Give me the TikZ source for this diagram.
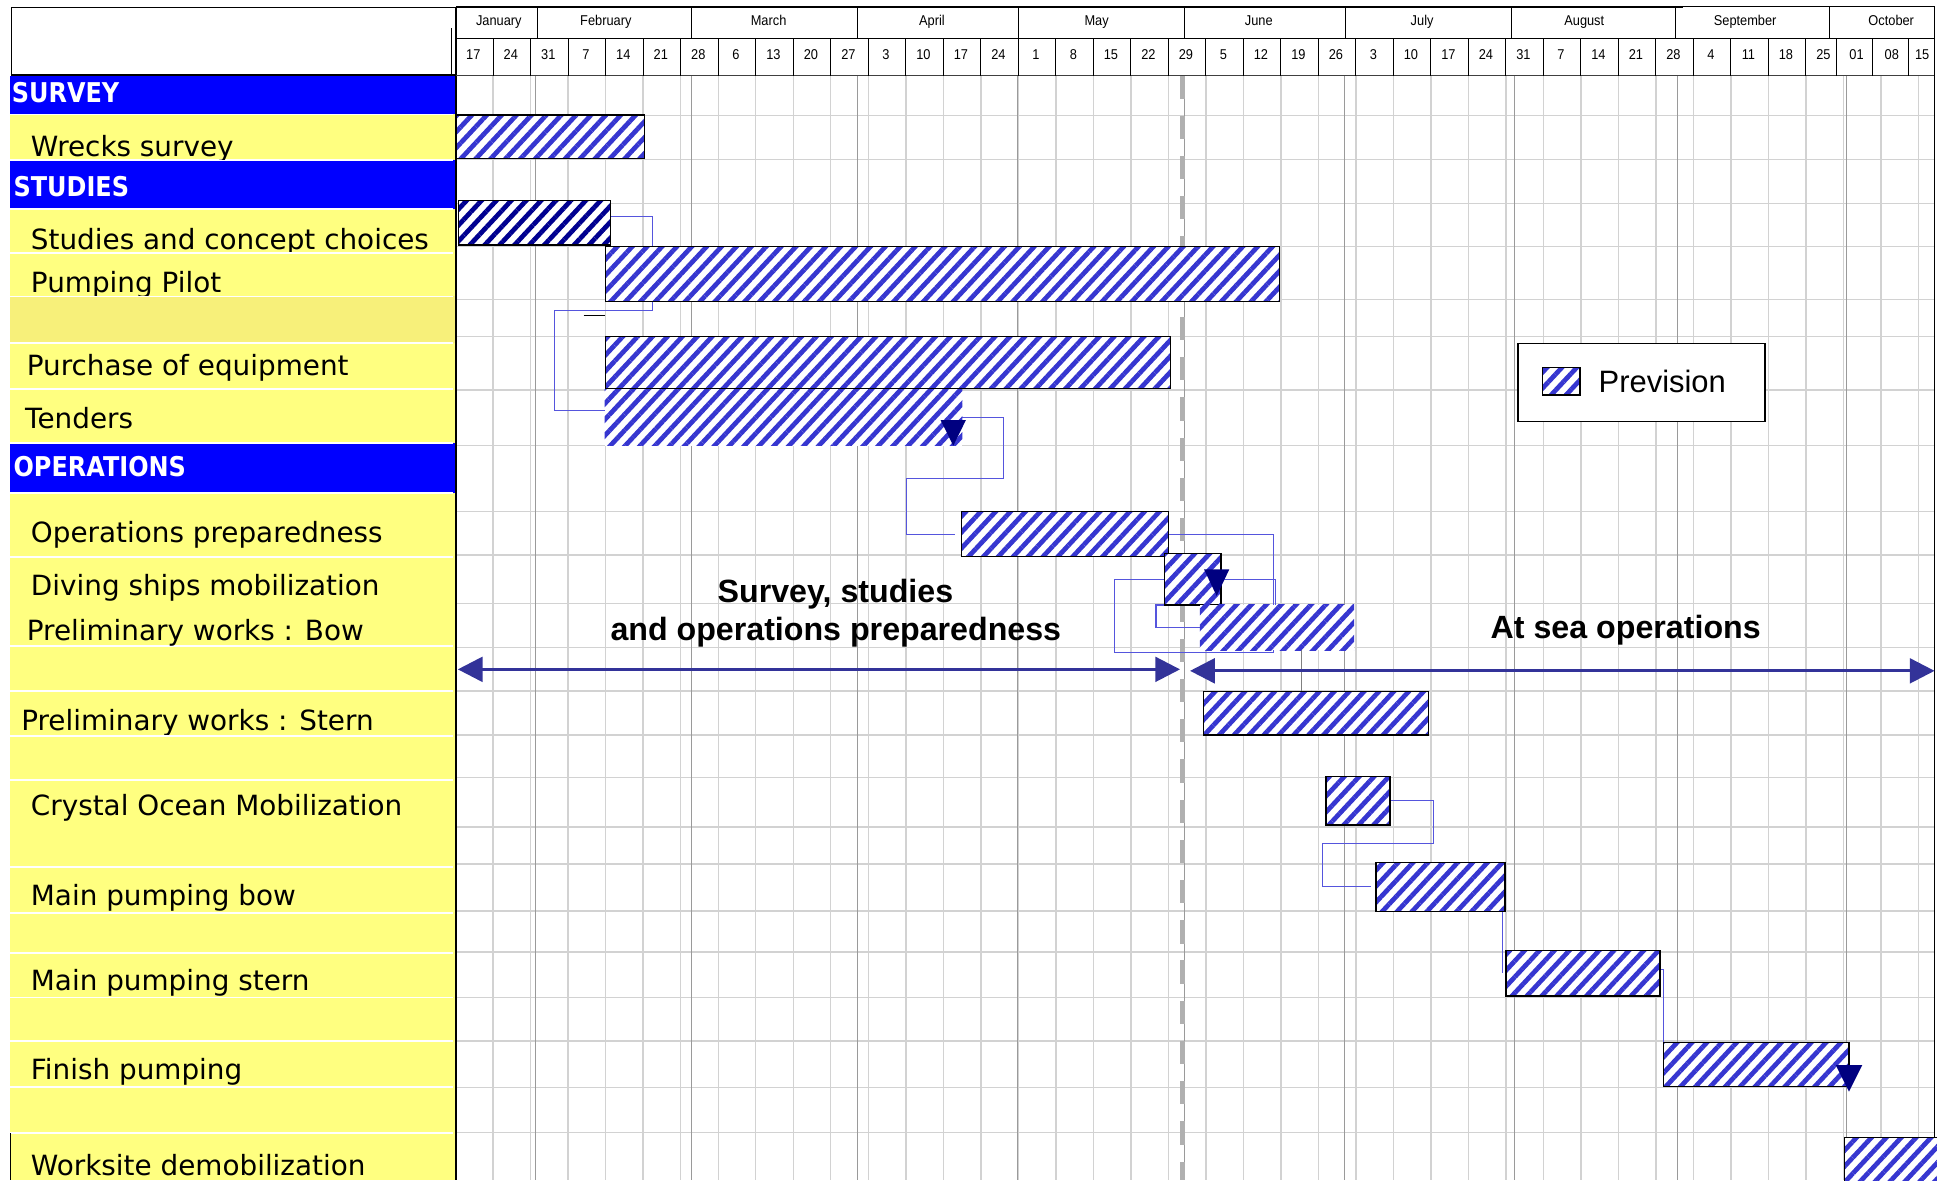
\documentclass[tikz,border=0pt]{standalone}
\usepackage{fontspec}
\setmainfont{DejaVu Sans}
\newfontfamily\catfont[FakeStretch=0.88]{DejaVu Sans}
\newfontfamily\headfont[FakeStretch=0.9]{Liberation Sans}
\newfontfamily\notefont{Liberation Sans}
\usetikzlibrary{arrows.meta,patterns.meta}
\pgfdeclarelayer{grid}
\pgfdeclarelayer{links}
\pgfsetlayers{grid,links,main}

\definecolor{rowyellow}{HTML}{FFFF80}
\definecolor{rowshade}{HTML}{F7F07A}
\definecolor{catblue}{HTML}{0000FF}
\definecolor{hatch}{HTML}{3636D0}
\definecolor{hatchdark}{HTML}{000090}
\definecolor{linkblue}{HTML}{5555DD}
\definecolor{phaseblue}{HTML}{333399}
\definecolor{navy}{HTML}{000080}
\definecolor{gridweek}{HTML}{D2D2D2}
\definecolor{gridmonth}{HTML}{9A9A9A}
\definecolor{todaygray}{HTML}{B0B0B0}

\tikzset{
	taskbar/.style={draw=black, line width=1.2pt, preaction={fill=white},
		pattern={Lines[angle=47,distance=8.8pt,line width=3.8pt]}, pattern color=hatch,
		inner sep=0pt, outer sep=0pt, anchor=north west},
	openbar/.style={draw=none},
	darkbar/.style={pattern color=hatchdark},
	link/.style={draw=linkblue, line width=0.9pt},
	phase/.style={draw=phaseblue, line width=2.4pt,
		arrows={Triangle[length=20pt,width=20pt]-Triangle[length=20pt,width=20pt]}},
	milestone/.style={fill=navy},
	rowtext/.style={anchor=base west, inner sep=0pt, font=\fontsize{22.5}{27}\selectfont},
	cattext/.style={anchor=base west, inner sep=0pt, text=white, font=\catfont\bfseries\fontsize{22}{26}\selectfont},
	headtext/.style={anchor=base, inner sep=0pt, font=\headfont\fontsize{11.5}{14}\selectfont},
	notetext/.style={anchor=base, inner sep=0pt, font=\notefont\bfseries\fontsize{26}{31}\selectfont},
	weekline/.style={draw=gridweek, line width=1.2pt},
	monthline/.style={draw=gridmonth, line width=0.8pt},
	todayline/.style={draw=todaygray, line width=4.6pt, dash pattern=on 18.8pt off 13.7pt}
}

% bar from (x1,y1) to (x2,y2), named
\newcommand\ganttbar[6][]{%
	\pgfmathsetmacro\barw{#4-#2}%
	\pgfmathsetmacro\barh{#5-#3}%
	\node[taskbar, minimum width=\barw pt, minimum height=\barh pt, #1] (#6) at (#2,#3) {};}
% task label clipped to its row
\newcommand\rowlabel[6]{%
	\begin{scope}
		\clip (8,#4) rectangle (368,#5);
		\node[rowtext] (#1) at (#2,#3) {#6};
	\end{scope}}

\begin{document}
\begin{tikzpicture}[x=1pt, y=-1pt]
	%%%%% START %%%%%
	\useasboundingbox (0,0) rectangle (1565,953.4);
	
	%%% grid
	\begin{pgfonlayer}{grid}
		\foreach \k in {1,...,39}
			\draw[weekline] ({368.2+\k*30.3},61) -- ({368.2+\k*30.3},953.4);
		\foreach \y in {93.3,129,164.3,199.3,241.8,272,315,360,413.4,448.4,487.5,523,558.3,594,628,668,698,736,769,806,841,878.5,915}
			\draw[weekline] (368.2,\y) -- (1563,\y);
		\foreach \x in {433,559,692.5,822,957,1086,1224,1355,1492}
			\draw[monthline] (\x,61) -- (\x,953.4);
		\draw[todayline] (955.3,61) -- (955.3,953.4);
	\end{pgfonlayer}
	
	%%% left panel
	\fill[rowyellow] (8,61) rectangle (368,953.4);
	\fill[rowshade] (8,239.5) rectangle (368,277.3);
	\fill[catblue] (8,61) rectangle (368,92.5);
	\fill[catblue] (8,129.3) rectangle (368,169);
	\fill[catblue] (8,357.8) rectangle (368,398.2);
	\foreach \y in {92.5,129.3,169,204.3,239.5,277.3,314,357.8,398.2,450,522.2,558.1,594.6,630.5,700.8,737.7,770,805.9,840.9,878.2,915.4}
		\draw[white, line width=1.5pt] (8,\y) -- (366,\y);
	\draw[line width=1pt] (8.6,915.4) -- (8.6,953.4);
	
	\node[cattext] (catsurvey) at (9.4,82.5) {SURVEY};
	\node[cattext] (catstudies) at (10.8,158.7) {STUDIES};
	\node[cattext] (catops) at (10.8,384.6) {OPERATIONS};
	
	\rowlabel{lblwrecks}{24.8}{126.4}{93.3}{128.5}{Wrecks survey}
	\rowlabel{lblstudies}{24.8}{201.4}{169.8}{203.5}{Studies and concept choices}
	\rowlabel{lblpumping}{24.8}{236}{205.1}{238.7}{Pumping Pilot}
	\rowlabel{lblpurchase}{21.5}{303}{278.1}{313.2}{Purchase of equipment}
	\rowlabel{lbltenders}{20.2}{346.3}{314.8}{357}{Tenders}
	\rowlabel{lblopsprep}{24.8}{438.6}{399}{449.2}{Operations preparedness}
	\rowlabel{lbldiving}{24.8}{481.3}{450.8}{521.4}{Diving ships mobilization}
	\rowlabel{lblbow}{21.5}{517.6}{450.8}{521.4}{Preliminary works : Bow}
	\rowlabel{lblstern}{17}{590}{558.9}{593.8}{Preliminary works : Stern}
	\rowlabel{lblcrystal}{24.8}{658.7}{631.3}{700}{Crystal Ocean Mobilization}
	\rowlabel{lblmainbow}{24.8}{731.4}{701.6}{736.9}{Main pumping bow}
	\rowlabel{lblmainstern}{24.8}{800.1}{770.8}{805.1}{Main pumping stern}
	\rowlabel{lblfinish}{24.8}{872.4}{841.7}{877.4}{Finish pumping}
	\rowlabel{lblworksite}{24.8}{949.6}{916.2}{953.4}{Worksite demobilization}
	
	%%% header
	\draw[line width=1pt] (9,5.9) -- (367.5,5.9);
	\draw[line width=1pt] (9,5.9) -- (9,60.6);
	\draw[line width=2pt] (9,60.6) -- (368.5,60.6);
	\draw[line width=0.8pt] (365,22.9) -- (365,60.6);
	\draw[line width=1.5pt] (368.5,5.4) -- (368.5,953.4);
	\draw[line width=1.6pt] (368.5,5.4) -- (1360,5.4);
	\draw[line width=0.8pt] (1360,5.4) -- (1563,5.4);
	\draw[line width=0.8pt] (368.5,31) -- (1563,31);
	\draw[line width=1.2pt, black!75] (368.5,61) -- (1563,61);
	\foreach \x in {434,559,692.5,823,957,1087,1221,1354,1478}
		\draw[line width=0.8pt] (\x,5.4) -- (\x,31);
	\foreach \k in {1,...,36}
		\draw[line width=0.8pt] ({368.2+\k*30.3},31) -- ({368.2+\k*30.3},61);
	\foreach \x in {1484,1513,1542}
		\draw[line width=0.8pt] (\x,31) -- (\x,61);
	\draw[line width=1.2pt] (1563,5.4) -- (1563,953.4);
	
	\foreach \mon/\x [count=\i] in {January/403,February/489.5,March/621,April/753,May/886,June/1017,July/1149,August/1280,September/1410,October/1528}
		\node[headtext] (month\i) at (\x,20.3) {\mon};
	\foreach \wk [count=\k from 0] in {17,24,31,7,14,21,28,6,13,20,27,3,10,17,24,1,8,15,22,29,5,12,19,26,3,10,17,24,31,7,14,21,28,4,11,18,25}
		\node[headtext] (week\k) at ({368.2+(\k+0.47)*30.3},47.9) {\wk};
	\node[headtext] (week37) at (1500,47.9) {01};
	\node[headtext] (week38) at (1528.5,47.9) {08};
	\node[headtext] (week39) at (1553,47.9) {15};
	
	%%% bars
	\ganttbar{369}{92.9}{520.6}{127.9}{wrecks}
	\ganttbar[darkbar]{370.4}{162.1}{493.3}{198}{studies}
	\ganttbar{489}{199.3}{1033.6}{243.7}{pumping}
	\ganttbar{489}{272}{945.5}{313.8}{purchase}
	\ganttbar[openbar]{488.6}{314.3}{777.6}{360.1}{tenders}
	\ganttbar{777}{413.4}{944}{449.8}{opsprep}
	\ganttbar{940.7}{447}{986.5}{488.8}{diving}
	\ganttbar[openbar]{969.5}{488.8}{1094}{525.2}{bow}
	\ganttbar{972.2}{558.8}{1154.3}{593.9}{stern}
	\ganttbar{1071.3}{627.5}{1122.9}{666.5}{crystal}
	\ganttbar{1111.9}{696.7}{1216}{736.3}{mainbow}
	\ganttbar{1216.6}{768.1}{1341.3}{804.7}{mainstern}
	\ganttbar{1343.9}{842.2}{1493.9}{878}{finish}
	\ganttbar{1490.3}{918.9}{1570}{960}{worksite}
	
	%%% links
	\begin{pgfonlayer}{links}
		\draw[link] ([yshift=5pt]studies.east) -- ++(33.8,0) -- ++(0,75.5) -| ([xshift=-40.3pt,yshift=5.4pt]tenders.west) -- ([yshift=5.4pt]tenders.west);
		\draw[link] (tenders.east) -- ++(32.9,0) -- ++(0,49.3) -| ([xshift=-44.7pt]opsprep.west) -- ([xshift=-5.4pt]opsprep.west);
		\draw[link] (opsprep.east) -| ([xshift=-3pt]bow.north);
		\draw[link] (diving.east) -| ([xshift=-1.3pt]bow.north);
		\draw[link] (diving.west) -- ++(-40.4,0) |- ([xshift=-3pt,yshift=-2.1pt]bow.south) -- ++(0,-6);
		\draw[link] (diving.south west) -- ++(-6.7,0) |- (bow.west);
		\draw[gray, line width=0.8pt] ([xshift=20pt]bow.south) -- ([xshift=20pt]bow.south |- stern.north);
		\draw[link] (crystal.east) -- ++(35.1,0) -- ++(0,34.4) -| ([xshift=-43.3pt]mainbow.west) -- ([xshift=-4.2pt]mainbow.west);
		\draw[link] ([xshift=-2.2pt]mainbow.south east) -- ([xshift=-2.8pt]mainstern.west);
		\draw[link] ([yshift=3.4pt]mainstern.east) -| (finish.north west);
	\end{pgfonlayer}
	\draw[line width=0.8pt] (471.5,254.8) -- (488.6,254.8);
	
	%%% milestones
	\fill[milestone] ([xshift=-7.4pt]tenders.south east) -- ++(-10.2,-20.7) -- ++(20.4,0) -- cycle;
	\fill[milestone] ([xshift=-3.5pt,yshift=7.3pt]diving.south east) -- ++(-10.2,-21.5) -- ++(20.4,0) -- cycle;
	\fill[milestone] ([yshift=-4pt]finish.south east) -- ++(-10.7,-21.5) -- ++(21.4,0) -- cycle;
	
	%%% phases
	\coordinate (prepstart) at (369.9,540.8);
	\coordinate (prepend) at (953.4,540.8);
	\coordinate (seastart) at (961.5,542);
	\coordinate (seaend) at (1563,542);
	\draw[phase] (prepstart) -- (prepend);
	\draw[phase] (seastart) -- (seaend);
	\node[notetext] (prepnote1) at (675,486.5) {Survey, studies};
	\node[notetext] (prepnote2) at (675.3,517.8) {and operations preparedness};
	\node[notetext] (seanote) at (1313.5,515.6) {At sea operations};
	
	%%% legend
	\node[draw, line width=1.3pt, fill=white, minimum width=199.5pt, minimum height=63pt, anchor=north west, inner sep=0pt] (legend) at (1226,276.9) {};
	\ganttbar{1246.4}{296.8}{1276.6}{319.1}{legendkey}
	\node[anchor=base west, inner sep=0pt, font=\notefont\fontsize{25}{30}\selectfont] (legendtext) at (1291.4,317.4) {Prevision};
	
	%%%%% END %%%%%
\end{tikzpicture}
\end{document}
